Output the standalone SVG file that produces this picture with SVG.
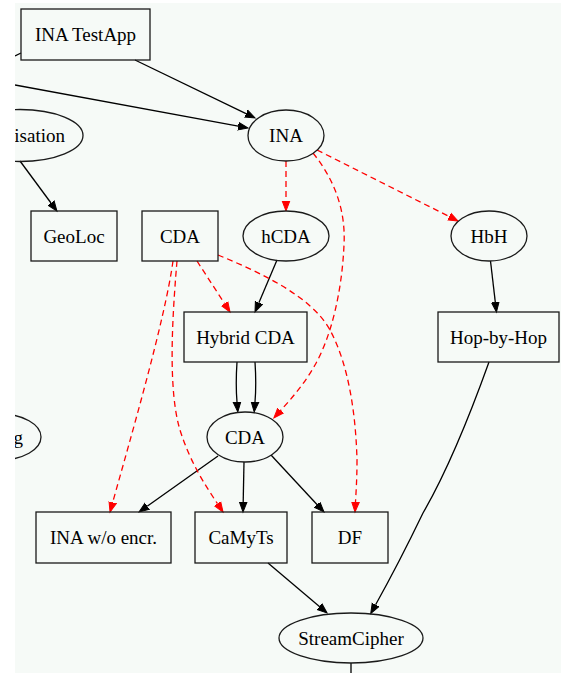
<svg xmlns="http://www.w3.org/2000/svg" width="561" height="673" viewBox="0 0 561 673">
<style>
.n{fill:none;stroke:#1a1a1a;stroke-width:1.3}
.t{font-family:"Liberation Serif","Times New Roman",serif;font-size:19px;fill:#000;text-anchor:middle}
.e{fill:none;stroke:#000;stroke-width:1.3}
.r{fill:none;stroke:#ff0000;stroke-width:1.3;stroke-dasharray:6,4}
</style>
<defs>
<marker id="ab" markerUnits="userSpaceOnUse" markerWidth="12" markerHeight="10" refX="0" refY="0" viewBox="0 -5 12 10" orient="auto"><path d="M0,-3.8 L10,0 L0,3.8 z" fill="#000" stroke="#000" stroke-width="1"/></marker>
<marker id="ar" markerUnits="userSpaceOnUse" markerWidth="12" markerHeight="10" refX="0" refY="0" viewBox="0 -5 12 10" orient="auto"><path d="M0,-3.8 L10,0 L0,3.8 z" fill="#ff0000" stroke="#ff0000" stroke-width="1"/></marker>
<clipPath id="c"><rect x="15" y="3" width="546" height="670"/></clipPath>
</defs>
<rect x="0" y="0" width="561" height="673" fill="#ffffff"/>
<rect x="15" y="3" width="546" height="670" fill="#f6faf7"/>
<g clip-path="url(#c)">
<g id="edges">
<path class="e" d="M15,56 L21,53"/>
<path class="e" d="M135,60 L246,113.6" marker-end="url(#ab)"/>
<path class="e" d="M15,85 L238.2,126.2" marker-end="url(#ab)"/>
<path class="e" d="M20,161 L51,203" marker-end="url(#ab)"/>
<path class="e" d="M490.5,261 L495.3,302.1" marker-end="url(#ab)"/>
<path class="e" d="M277,260 L258.9,302.8" marker-end="url(#ab)"/>
<path class="e" d="M237,362 C236,377 236,390 237,402" marker-end="url(#ab)"/>
<path class="e" d="M255,362 C256,377 256,390 255,402" marker-end="url(#ab)"/>
<path class="e" d="M218,456 L147.2,506.2" marker-end="url(#ab)"/>
<path class="e" d="M244,462 L243.2,502" marker-end="url(#ab)"/>
<path class="e" d="M271,455 L317.2,504.7" marker-end="url(#ab)"/>
<path class="e" d="M268,563 L319.4,606.5" marker-end="url(#ab)"/>
<path class="e" d="M489,362 C470,415 445,475 423,513 C410,540 395,570 375.6,604.7" marker-end="url(#ab)"/>
<path class="e" d="M351,663 L351,673"/>
<path class="r" d="M286,161 L286,201" marker-end="url(#ar)"/>
<path class="r" d="M317,150 L449.1,216.5" marker-end="url(#ar)"/>
<path class="r" d="M313,153 C333,178 346,208 344,245 C342,290 332,335 315,365 C305,383 292,398 280.6,410.5" marker-end="url(#ar)"/>
<path class="r" d="M197,261 L224.6,303.6" marker-end="url(#ar)"/>
<path class="r" d="M218,255 C262,273 312,297 330,330 C350,367 356,420 357,460 C357,480 356,492 355.5,502" marker-end="url(#ar)"/>
<path class="r" d="M173,261 C165,320 130,440 112.7,502.4" marker-end="url(#ar)"/>
<path class="r" d="M177,261 C172,320 168,390 180,430 C190,462 205,485 217.5,503.7" marker-end="url(#ar)"/>
</g>
<g id="inatestapp"><rect class="n" x="21" y="9" width="129" height="51"/><text class="t" x="85.5" y="41">INA TestApp</text></g>
<g id="ina"><ellipse class="n" cx="286" cy="135.5" rx="38" ry="25.5"/><text class="t" x="286" y="142">INA</text></g>
<g id="isation"><ellipse class="n" cx="20" cy="135.5" rx="63" ry="26"/><text class="t" x="65" y="142" style="text-anchor:end">isation</text></g>
<g id="geoloc"><rect class="n" x="31" y="211" width="86" height="50"/><text class="t" x="74" y="243">GeoLoc</text></g>
<g id="cda-top"><rect class="n" x="142" y="211" width="76" height="50"/><text class="t" x="180" y="243">CDA</text></g>
<g id="hcda"><ellipse class="n" cx="286" cy="236" rx="43" ry="25"/><text class="t" x="286" y="243">hCDA</text></g>
<g id="hbh"><ellipse class="n" cx="489" cy="236" rx="38" ry="25"/><text class="t" x="489" y="243">HbH</text></g>
<g id="hybridcda"><rect class="n" x="184" y="312" width="123" height="50"/><text class="t" x="245.5" y="344">Hybrid CDA</text></g>
<g id="hopbyhop"><rect class="n" x="438" y="312" width="121" height="50"/><text class="t" x="498.5" y="344">Hop-by-Hop</text></g>
<g id="g-node"><ellipse class="n" cx="0" cy="437" rx="41" ry="23"/><text class="t" x="23" y="444" style="text-anchor:end">g</text></g>
<g id="cda-mid"><ellipse class="n" cx="245" cy="437" rx="38" ry="25"/><text class="t" x="245" y="444">CDA</text></g>
<g id="inawoencr"><rect class="n" x="36" y="512" width="135" height="51"/><text class="t" x="103.5" y="544">INA w/o encr.</text></g>
<g id="camyts"><rect class="n" x="195" y="512" width="92" height="51"/><text class="t" x="241" y="544">CaMyTs</text></g>
<g id="df"><rect class="n" x="312" y="512" width="76" height="51"/><text class="t" x="350" y="544">DF</text></g>
<g id="streamcipher"><ellipse class="n" cx="351" cy="638" rx="72" ry="25"/><text class="t" x="351" y="645">StreamCipher</text></g>
</g>
</svg>
